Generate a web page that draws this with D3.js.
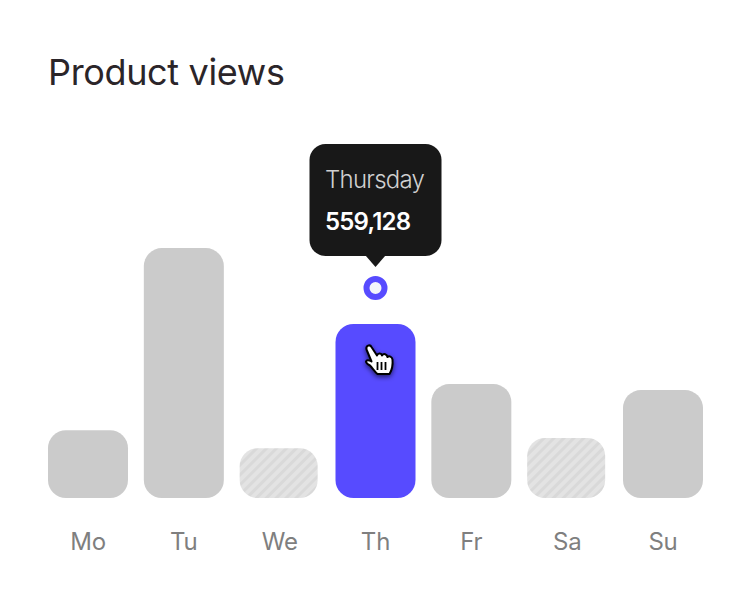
<!DOCTYPE html>
<html>
<head>
<meta charset="utf-8">
<script src="https://cdn.jsdelivr.net/npm/d3@7"></script>
<style>
    html, body { margin: 0; padding: 0; background: #fff; }
    text { font-family: Inter, sans-serif; }
</style>
</head>
<body>
<div id="chart"></div>
<script>
var days = ["Mo", "Tu", "We", "Th", "Fr", "Sa", "Su"];
var views = [218000, 803000, 160000, 559128, 366000, 193000, 347000];
var hatched = ["We", "Sa"];
var activeDay = "Th";
var activeName = "Thursday";

var svg = d3.select("#chart").append("svg")
    .attr("width", 751)
    .attr("height", 608)
    .style("display", "block");

var defs = svg.append("defs");
var hatch = defs.append("pattern")
    .attr("id", "hatch")
    .attr("patternUnits", "userSpaceOnUse")
    .attr("width", 7)
    .attr("height", 7)
    .attr("patternTransform", "rotate(-45)");
hatch.append("rect").attr("width", 7).attr("height", 7).attr("fill", "#e3e3e3");
hatch.append("rect").attr("width", 7).attr("height", 3).attr("fill", "#d9d9d9");

var shadow = defs.append("filter").attr("id", "cursor-shadow")
    .attr("x", "-50%").attr("y", "-50%").attr("width", "200%").attr("height", "200%");
shadow.append("feDropShadow")
    .attr("dx", 0).attr("dy", 2).attr("stdDeviation", 2.5)
    .attr("flood-color", "#000").attr("flood-opacity", 0.6);

var x = d3.scaleBand()
    .domain(days)
    .range([48, 703])
    .paddingInner(0.1652);

var y = d3.scaleLinear()
    .domain([0, 559128])
    .range([498, 324]);

// title
svg.append("text")
    .attr("x", 48)
    .attr("y", 85)
    .attr("font-size", 36)
    .attr("letter-spacing", -0.35)
    .attr("fill", "#2b2529")
    .text("Product views");

// bars
svg.selectAll("rect.bar")
    .data(days)
    .enter().append("rect")
    .attr("class", "bar")
    .attr("x", function(d) { return x(d); })
    .attr("y", function(d, i) { return y(views[i]); })
    .attr("width", function(d) { return hatched.indexOf(d) >= 0 ? x.bandwidth() - 2 : x.bandwidth(); })
    .attr("height", function(d, i) { return y(0) - y(views[i]); })
    .attr("rx", 18)
    .attr("fill", function(d) {
        if (d === activeDay) return "#574bff";
        return hatched.indexOf(d) >= 0 ? "url(#hatch)" : "#cbcbcb";
    });

// x axis
var xAxis = svg.append("g")
    .attr("transform", "translate(0,498)")
    .call(d3.axisBottom(x).tickSize(0).tickPadding(35));
xAxis.select(".domain").remove();
xAxis.selectAll("text")
    .attr("font-size", 24)
    .attr("font-family", "Inter, sans-serif")
    .attr("letter-spacing", -0.2)
    .attr("fill", "#7f7f7f");

// tooltip and hover marker
var ax = x(activeDay) + x.bandwidth() / 2;
var av = views[days.indexOf(activeDay)];
var ay = y(av);

var tip = svg.append("g").attr("transform", "translate(" + ax + "," + ay + ")");
tip.append("rect")
    .attr("x", -66)
    .attr("y", -180)
    .attr("width", 132)
    .attr("height", 112)
    .attr("rx", 16)
    .attr("fill", "#181818");
tip.append("path")
    .attr("d", "M-10,-68.5L0,-57L10,-68.5Z")
    .attr("fill", "#181818");
tip.append("text")
    .attr("x", -50.5)
    .attr("y", -136)
    .attr("font-size", 24)
    .attr("font-weight", 300)
    .attr("letter-spacing", -0.75)
    .attr("fill", "#d0d0d0")
    .text(activeName);
tip.append("text")
    .attr("x", -50.5)
    .attr("y", -94)
    .attr("font-size", 24)
    .attr("font-weight", 600)
    .attr("letter-spacing", -0.8)
    .attr("fill", "#ffffff")
    .text(d3.format(",")(av));
tip.append("circle")
    .attr("cx", 0)
    .attr("cy", -36)
    .attr("r", 9)
    .attr("fill", "#f3f5fb")
    .attr("stroke", "#574bff")
    .attr("stroke-width", 6);

// hand cursor
var hand = svg.append("g")
    .attr("transform", "translate(" + (ax - 10.5) + "," + (ay + 21) + ")")
    .attr("filter", "url(#cursor-shadow)");
hand.append("path")
    .attr("d", "M1.500,4.500C0.500,0.500 5,-1 6.500,2L12,10.500C13,7.500 16.500,8 17,10.500C18.500,8 22,9 22.500,12C24,10.500 27,11.500 27.500,14.500C28,20 27,25 24.500,29L12.500,29C10,27 7.500,23 5,20.500C3,19.500 1,18.500 1,16.500C1.500,14.500 4,15 6.500,16.500Z")
    .attr("fill", "#fff")
    .attr("stroke", "#000")
    .attr("stroke-width", 2)
    .attr("stroke-linejoin", "round");
hand.selectAll("line.grip")
    .data(days.slice(0, 3))
    .enter().append("line")
    .attr("class", "grip")
    .attr("x1", function(d, i) { return 12.5 + i * 4; })
    .attr("x2", function(d, i) { return 12.5 + i * 4; })
    .attr("y1", 17)
    .attr("y2", 25)
    .attr("stroke", "#000")
    .attr("stroke-width", 1.8);
</script>
</body>
</html>
